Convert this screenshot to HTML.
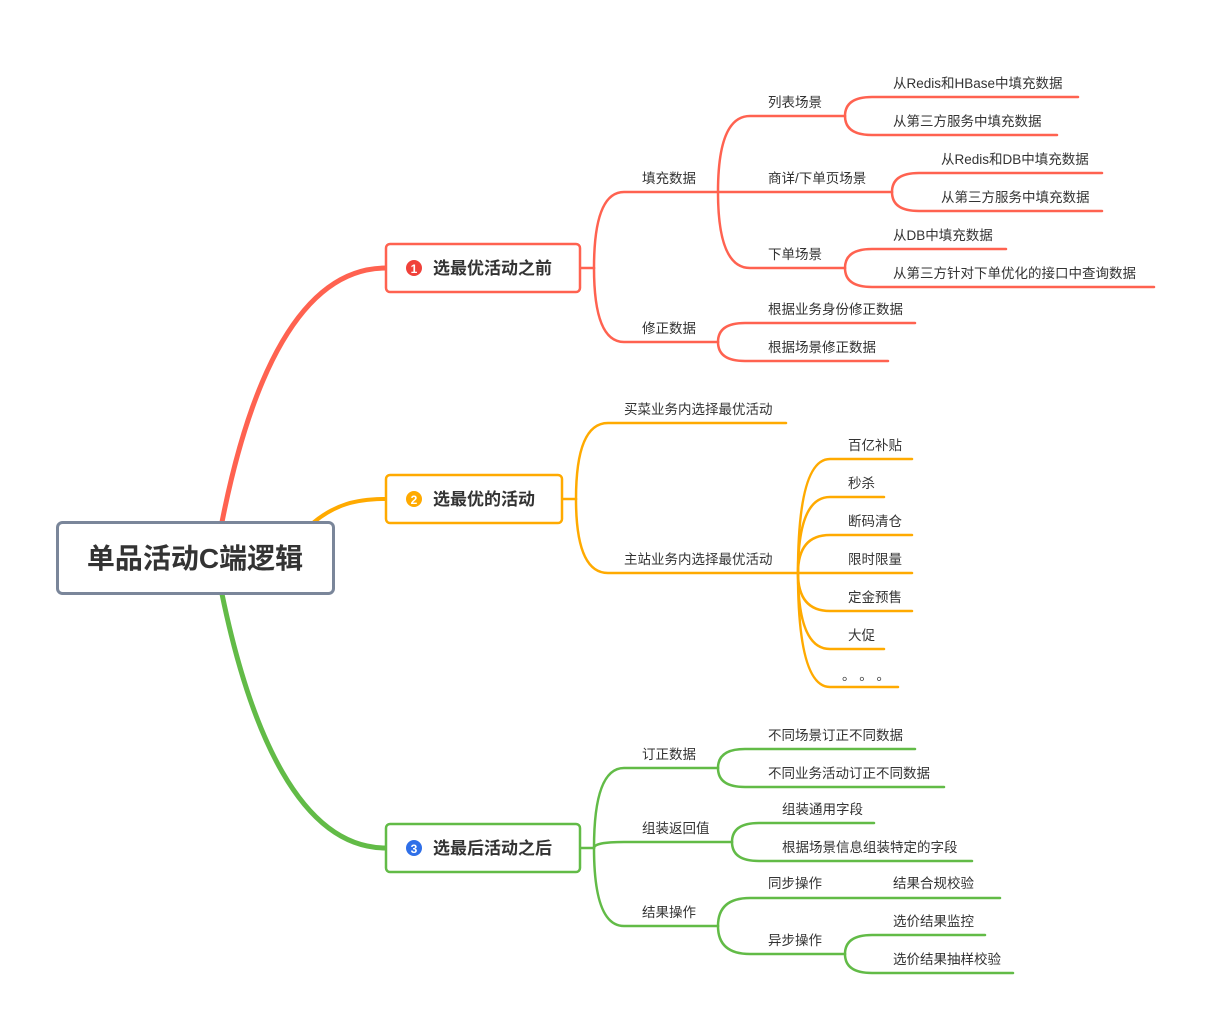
<!DOCTYPE html>
<html><head><meta charset="utf-8"><style>
html,body{margin:0;padding:0;background:#fff;}
svg{display:block;}
text{font-family:"Liberation Sans","Noto Sans CJK SC",sans-serif;fill:#333;}
.l{font-size:13.5px;}
.t{font-size:17px;font-weight:bold;}
</style></head><body>
<svg width="1207" height="1019" viewBox="0 0 1207 1019" xmlns="http://www.w3.org/2000/svg">
<g fill="none" stroke-linecap="round">
<path d="M222,522 C250,380 300,268 386,268" stroke="#FF6250" stroke-width="5"/>
<path d="M314,522 C335,505 355,499 386,499" stroke="#FFAA00" stroke-width="4"/>
<path d="M222,594 C250,730 300,848 386,848" stroke="#62BB47" stroke-width="5"/>

<g stroke="#FF6250" stroke-width="2.5">
<path d="M580,268 L594,268"/>
<path d="M594,268 Q594,192 624,192 L718,192"/>
<path d="M594,268 Q594,342 624,342 L718,342"/>
<path d="M718,192 Q718,116 750,116 L845,116"/>
<path d="M718,192 L892,192"/>
<path d="M718,192 Q718,268 750,268 L845,268"/>
<path d="M845,116 Q845,97 872,97 L1078,97"/>
<path d="M845,116 Q845,135 872,135 L1057,135"/>
<path d="M892,192 Q892,173 919,173 L1102,173"/>
<path d="M892,192 Q892,211 919,211 L1102,211"/>
<path d="M845,268 Q845,249 872,249 L1006,249"/>
<path d="M845,268 Q845,287 872,287 L1154,287"/>
<path d="M718,342 Q718,323 745,323 L915,323"/>
<path d="M718,342 Q718,361 745,361 L888,361"/>
</g>

<g stroke="#FFAA00" stroke-width="2.5">
<path d="M562,499 L576,499"/>
<path d="M576,499 Q576,423 608,423 L786,423"/>
<path d="M576,499 Q576,573 608,573 L798,573"/>
<path d="M798,573 Q798,459 830,459 L912,459"/>
<path d="M798,573 Q798,497 830,497 L884,497"/>
<path d="M798,573 Q798,535 830,535 L912,535"/>
<path d="M798,573 L912,573"/>
<path d="M798,573 Q798,611 830,611 L912,611"/>
<path d="M798,573 Q798,649 830,649 L884,649"/>
<path d="M798,573 Q798,687 830,687 L898,687"/>
</g>

<g stroke="#62BB47" stroke-width="2.5">
<path d="M580,848 L594,848"/>
<path d="M594,848 Q594,768 624,768 L718,768"/>
<path d="M594,848 Q594,842 624,842 L732,842"/>
<path d="M594,848 Q594,926 624,926 L718,926"/>
<path d="M718,768 Q718,749 745,749 L915,749"/>
<path d="M718,768 Q718,787 745,787 L944,787"/>
<path d="M732,842 Q732,823 759,823 L874,823"/>
<path d="M732,842 Q732,861 759,861 L972,861"/>
<path d="M718,926 Q718,898 750,898 L1000,898"/>
<path d="M718,926 Q718,954 750,954 L845,954"/>
<path d="M845,954 Q845,935 872,935 L985,935"/>
<path d="M845,954 Q845,973 872,973 L1013,973"/>
</g>
</g>

<rect x="57.5" y="522.5" width="276" height="71" rx="5" fill="#fff" stroke="#7A869A" stroke-width="3"/>
<text x="195" y="568" text-anchor="middle" style="font-size:28px;font-weight:bold;fill:#333">单品活动C端逻辑</text>

<rect x="386" y="244" width="194" height="48" rx="4" fill="#fff" stroke="#FF6250" stroke-width="2.5"/>
<circle cx="414" cy="268" r="8" fill="#F0413A"/>
<text x="414" y="273" text-anchor="middle" style="font-size:12px;font-weight:bold;fill:#fff">1</text>
<text x="433" y="274" class="t">选最优活动之前</text>

<rect x="386" y="475" width="176" height="48" rx="4" fill="#fff" stroke="#FFAA00" stroke-width="2.5"/>
<circle cx="414" cy="499" r="8" fill="#FFAA00"/>
<text x="414" y="504" text-anchor="middle" style="font-size:12px;font-weight:bold;fill:#fff">2</text>
<text x="433" y="505" class="t">选最优的活动</text>

<rect x="386" y="824" width="194" height="48" rx="4" fill="#fff" stroke="#62BB47" stroke-width="2.5"/>
<circle cx="414" cy="848" r="8" fill="#2F6FE8"/>
<text x="414" y="853" text-anchor="middle" style="font-size:12px;font-weight:bold;fill:#fff">3</text>
<text x="433" y="854" class="t">选最后活动之后</text>

<g class="l">
<text x="642" y="183" class="l">填充数据</text>
<text x="642" y="333" class="l">修正数据</text>
<text x="768" y="107" class="l">列表场景</text>
<text x="768" y="183" class="l">商详/下单页场景</text>
<text x="768" y="259" class="l">下单场景</text>
<text x="893" y="88" class="l">从Redis和HBase中填充数据</text>
<text x="893" y="126" class="l">从第三方服务中填充数据</text>
<text x="941" y="164" class="l">从Redis和DB中填充数据</text>
<text x="941" y="202" class="l">从第三方服务中填充数据</text>
<text x="893" y="240" class="l">从DB中填充数据</text>
<text x="893" y="278" class="l">从第三方针对下单优化的接口中查询数据</text>
<text x="768" y="314" class="l">根据业务身份修正数据</text>
<text x="768" y="352" class="l">根据场景修正数据</text>

<text x="624" y="414" class="l">买菜业务内选择最优活动</text>
<text x="624" y="564" class="l">主站业务内选择最优活动</text>
<text x="848" y="450" class="l">百亿补贴</text>
<text x="848" y="488" class="l">秒杀</text>
<text x="848" y="526" class="l">断码清仓</text>
<text x="848" y="564" class="l">限时限量</text>
<text x="848" y="602" class="l">定金预售</text>
<text x="848" y="640" class="l">大促</text>
<text x="842" y="680" class="l">。 。 。</text>

<text x="642" y="759" class="l">订正数据</text>
<text x="642" y="833" class="l">组装返回值</text>
<text x="642" y="917" class="l">结果操作</text>
<text x="768" y="740" class="l">不同场景订正不同数据</text>
<text x="768" y="778" class="l">不同业务活动订正不同数据</text>
<text x="782" y="814" class="l">组装通用字段</text>
<text x="782" y="852" class="l">根据场景信息组装特定的字段</text>
<text x="768" y="888" class="l">同步操作</text>
<text x="893" y="888" class="l">结果合规校验</text>
<text x="768" y="945" class="l">异步操作</text>
<text x="893" y="926" class="l">选价结果监控</text>
<text x="893" y="964" class="l">选价结果抽样校验</text>
</g>
</svg>
</body></html>
